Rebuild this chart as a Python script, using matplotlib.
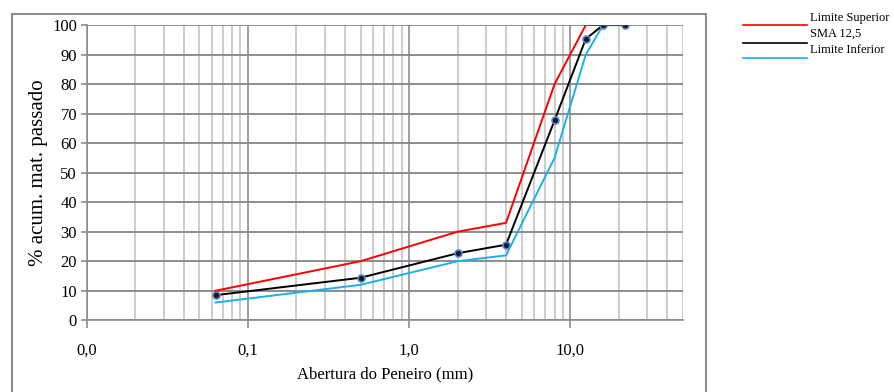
import numpy as np
import matplotlib.pyplot as plt
from matplotlib.lines import Line2D
from matplotlib.patches import Rectangle
from matplotlib.ticker import FixedLocator, FixedFormatter, LogLocator, NullFormatter

plt.rcParams['font.family'] = ['Liberation Serif', 'DejaVu Serif']

# Sieve openings (mm) and % passing
abertura = [0.063, 0.5, 2.0, 4.0, 8.0, 12.5, 16.0, 22.0]
sma = [8.5, 14.4, 22.7, 25.6, 67.7, 95.3, 100, 100]
lim_sup = [10, 20, 30, 33, 80, 100, 100, 100]
lim_inf = [6, 12, 20, 22, 55, 90, 100, 100]

x_ticks = [0.01, 0.1, 1.0, 10.0]
x_tick_labels = ['0,0', '0,1', '1,0', '10,0']
y_ticks = list(range(0, 101, 10))

serie_nomes = ['Limite Superior', 'SMA 12,5', 'Limite Inferior']
serie_cores = ['#ff0000', '#000000', '#1ab0ec']

fig = plt.figure(figsize=(8.95, 3.92), dpi=100)
ax = fig.add_axes([0.0969, 0.183, 0.666, 0.753])

ax.set_xscale('log')
ax.set_xlim(0.01, 50)
ax.set_ylim(0, 100)

# grid
ax.xaxis.set_major_locator(FixedLocator(x_ticks))
ax.xaxis.set_major_formatter(FixedFormatter(x_tick_labels))
ax.xaxis.set_minor_locator(LogLocator(base=10, subs=np.arange(2, 10)))
ax.xaxis.set_minor_formatter(NullFormatter())
ax.set_yticks(y_ticks)
ax.grid(True, which='major', axis='x', color='#8c8c8c', lw=1.2)
ax.grid(True, which='minor', axis='x', color='#c0c0c0', lw=1.1)
ax.grid(True, which='major', axis='y', color='#8c8c8c', lw=1.4)
ax.set_axisbelow(True)

for s in ['top', 'right']:
    ax.spines[s].set_visible(False)
for s in ['left', 'bottom']:
    ax.spines[s].set_color('#8c8c8c')
    ax.spines[s].set_linewidth(1.2)

ax.tick_params(axis='x', which='major', length=6, width=1.2, color='#8c8c8c',
               labelsize=12, pad=10)
ax.tick_params(axis='x', which='minor', length=0)
ax.tick_params(axis='y', length=4, width=1.2, color='#8c8c8c', labelsize=12, pad=3)

ax.plot(abertura, lim_inf, color=serie_cores[2], lw=1.4, zorder=3)
ax.plot(abertura, sma, color=serie_cores[1], lw=1.4, zorder=4,
        marker='o', markersize=5, markerfacecolor='#101830',
        markeredgecolor='#5a86c8', markeredgewidth=1.2)
ax.plot(abertura[:6], lim_sup[:6], color=serie_cores[0], lw=1.4, zorder=5)
ax.plot(abertura[5:], lim_sup[5:], color=serie_cores[0], lw=1.4, zorder=5)

ax.set_xlabel('Abertura do Peneiro (mm)', fontsize=12, labelpad=6)
ax.set_ylabel('% acum. mat. passado', fontsize=15, labelpad=3)

# outer chart frame
fig.add_artist(Rectangle((12 / 895, -0.02), 694 / 895, 1 - 14 / 392 + 0.02,
                         transform=fig.transFigure, fill=False,
                         edgecolor='#8c8c8c', lw=1.5))

# legend
leg_y_line = [1 - 25 / 392, 1 - 43 / 392, 1 - 58 / 392]
leg_y_text = [1 - 18 / 392, 1 - 34 / 392, 1 - 50 / 392]
for nome, cor, yl, yt in zip(serie_nomes, serie_cores, leg_y_line, leg_y_text):
    fig.add_artist(Line2D([743 / 895, 807 / 895], [yl, yl], transform=fig.transFigure,
                          color=cor, lw=1.2))
    fig.text(810 / 895, yt, nome, fontsize=9, va='center', ha='left')

fig.savefig('out.png', dpi=100)
